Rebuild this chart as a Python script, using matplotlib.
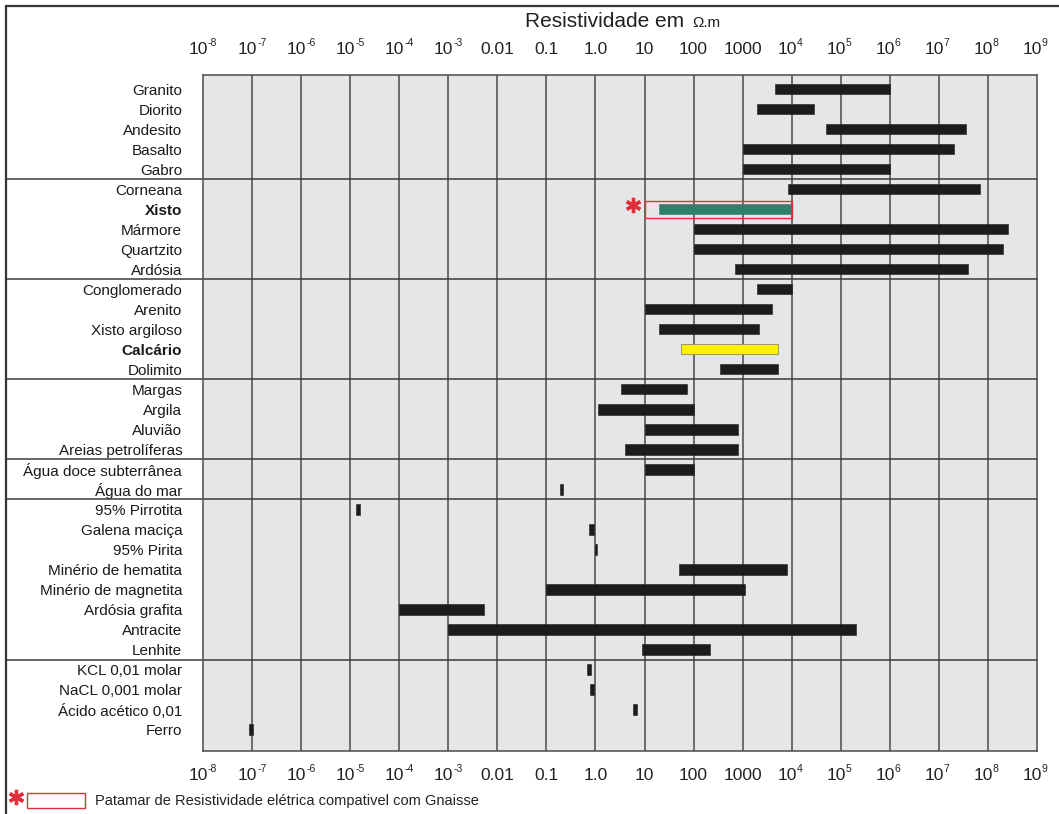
import matplotlib
matplotlib.use("Agg")
import matplotlib.pyplot as plt
import matplotlib.transforms as mtransforms
from matplotlib.patches import Rectangle
from matplotlib.lines import Line2D

# Faixas de resistividade (ohm.m)
rochas = ["Granito", "Diorito", "Andesito", "Basalto", "Gabro",
          "Corneana", "Xisto", "Mármore", "Quartzito", "Ardósia",
          "Conglomerado", "Arenito", "Xisto argiloso", "Calcário", "Dolimito",
          "Margas", "Argila", "Aluvião", "Areias petrolíferas",
          "Água doce subterrânea", "Água do mar",
          "95% Pirrotita", "Galena maciça", "95% Pirita", "Minério de hematita",
          "Minério de magnetita", "Ardósia grafita", "Antracite", "Lenhite",
          "KCL 0,01 molar", "NaCL 0,001 molar", "Ácido acético 0,01", "Ferro"]
rho_min = [4.5e3, 2e3, 5e4, 1e3, 1e3,
           8.5e3, 20, 100, 100, 700,
           2e3, 10, 20, 55, 350,
           3.3, 1.1, 10, 4,
           10, 0.19,
           1.3e-5, 0.75, 0.96, 50,
           0.1, 1e-4, 1e-3, 9,
           0.68, 0.78, 5.7, 8.5e-8]
rho_max = [1e6, 2.8e4, 3.6e7, 2e7, 1e6,
           7e7, 1e4, 2.6e8, 2e8, 4e7,
           1e4, 4e3, 2.2e3, 5.3e3, 5.3e3,
           72, 100, 800, 800,
           100, 0.22,
           1.6e-5, 0.93, 1.06, 8e3,
           1.1e3, 5.4e-3, 2e5, 215,
           0.82, 0.93, 6.9, 1.05e-7]
destaque = {"Xisto": "#2e7f6c", "Calcário": "#fff200"}
separadores = [4.5, 9.5, 14.5, 18.5, 20.5, 28.5]
patamar_gnaisse = (10, 1e4)

decadas = list(range(-8, 10))
rotulos_x = ["10|-8", "10|-7", "10|-6", "10|-5", "10|-4", "10|-3",
             "0.01", "0.1", "1.0", "10", "100", "1000",
             "10|4", "10|5", "10|6", "10|7", "10|8", "10|9"]

plt.rcParams['font.family'] = ['Liberation Sans', 'DejaVu Sans']

W, H = 1059, 814
fig = plt.figure(figsize=(W / 100, H / 100), dpi=100)
x0, x1, y0, y1 = 203, 1037, 75, 751
ax = fig.add_axes([x0 / W, 1 - y1 / H, (x1 - x0) / W, (y1 - y0) / H])
ax.set_facecolor('#e5e6e8')
ax.set_xscale('log')
ax.set_xlim(10.0 ** decadas[0], 10.0 ** decadas[-1])
ax.set_ylim(32 + 1.07, -0.7)

grid_color = '#4a4a4a'
for k in decadas[1:-1]:
    ax.axvline(10.0 ** k, color=grid_color, lw=1.1, zorder=1)
for s in ax.spines.values():
    s.set_color(grid_color)
    s.set_linewidth(1.1)

ypos = list(range(len(rochas)))
cores = [destaque.get(r, '#1c1c1c') for r in rochas]
larguras = [b - a for a, b in zip(rho_min, rho_max)]
bars = ax.barh(ypos, larguras, left=rho_min, height=0.52, color=cores,
               edgecolor=cores, linewidth=0.4, zorder=3)
for b, r in zip(bars, rochas):
    if r == "Calcário":
        b.set_edgecolor('#8a8a60')
        b.set_linewidth(0.6)

red = '#e0303a'
# patamar de resistividade compativel com gnaisse
ix = rochas.index("Xisto")
ax.add_patch(Rectangle((patamar_gnaisse[0], ix - 0.42),
                       patamar_gnaisse[1] - patamar_gnaisse[0], 0.84,
                       fill=False, edgecolor=red, lw=1.0, zorder=4))
star_tr = mtransforms.offset_copy(ax.transData, fig=fig, x=-12, y=4, units='dots')
ax.plot([patamar_gnaisse[0]], [ix], marker=(6, 2, 0), ms=11, mew=2.4,
        color=red, transform=star_tr, clip_on=False, zorder=5)

# separadores de grupos
bt = mtransforms.blended_transform_factory(ax.transAxes, ax.transData)
xl = (6 - x0) / (x1 - x0)
for s in separadores:
    ax.plot([xl, 1], [s, s], transform=bt, color='#3a3a3a', lw=1.1,
            clip_on=False, zorder=2)

ax.set_xticks([])
ax.set_xticks([], minor=True)
ax.set_yticks(ypos)
ax.set_yticklabels(rochas, fontsize=11, color='#1a1a1a')
ax.tick_params(axis='y', length=0, pad=15)
for lab in ax.get_yticklabels():
    if lab.get_text() in destaque:
        lab.set_fontweight('bold')

# rotulos do eixo x (topo e base)
xt = mtransforms.blended_transform_factory(ax.transData, ax.transAxes)
ytop = (y1 - 54) / (y1 - y0)
ybot = (y1 - 780) / (y1 - y0)
for k, lab in zip(decadas, rotulos_x):
    for yy in (ytop, ybot):
        if '|' in lab:
            base, expo = lab.split('|')
            ax.text(10.0 ** k, yy, base, ha='right', va='baseline',
                    fontsize=12.5, color='#222222', clip_on=False,
                    transform=mtransforms.offset_copy(xt, fig=fig, x=5, y=0, units='dots'))
            ax.text(10.0 ** k, yy, expo, ha='left', va='baseline',
                    fontsize=7.5, color='#222222', clip_on=False,
                    transform=mtransforms.offset_copy(xt, fig=fig, x=5, y=8, units='dots'))
        else:
            ax.text(10.0 ** k, yy, lab, transform=xt, ha='center', va='baseline',
                    fontsize=12.5, color='#222222', clip_on=False)

# titulo
fig.text(690 / W, 1 - 27 / H, 'Resistividade em ', fontsize=15, ha='right',
         va='baseline', color='#222222')
fig.text(692 / W, 1 - 27 / H, 'Ω.m', fontsize=11, ha='left',
         va='baseline', color='#222222')

# legenda
fig.add_artist(Line2D([16 / W], [1 - 797 / H], marker=(6, 2, 0), ms=11, mew=2.4,
                      color=red, transform=fig.transFigure))
fig.add_artist(Rectangle((27 / W, 1 - 808 / H), 58 / W, 15 / H, fill=False,
                         edgecolor=red, lw=1.0, transform=fig.transFigure))
fig.text(95 / W, 1 - 801 / H,
         'Patamar de Resistividade elétrica compativel com Gnaisse',
         fontsize=10.5, ha='left', va='center', color='#222222')

# moldura externa
fig.add_artist(Rectangle((6 / W, -0.5), 2.0, 0.5 + 1 - 6 / H, fill=False,
                         edgecolor='#333333', lw=1.6, transform=fig.transFigure))

fig.savefig('out.png', dpi=100)
